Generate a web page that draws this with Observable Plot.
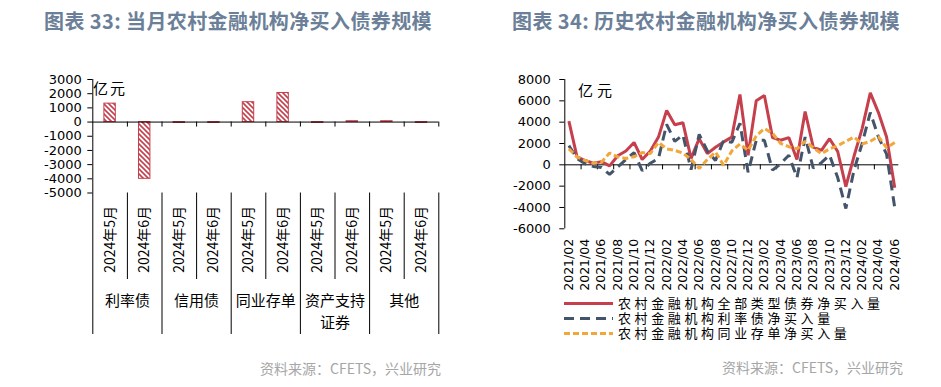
<!DOCTYPE html>
<html>
<head>
<meta charset="utf-8">
<script src="https://cdn.jsdelivr.net/npm/d3@7"></script>
<script src="https://cdn.jsdelivr.net/npm/@observablehq/plot@0.6"></script>
<style>
  html, body { margin: 0; padding: 0; background: #fff; }
  #page { position: relative; width: 941px; height: 387px; overflow: hidden; font-family: "Noto Sans CJK SC", sans-serif; }
  .abs { position: absolute; white-space: nowrap; }
  .title { font-size: 20px; font-weight: bold; color: #6b7f98; line-height: 26px; letter-spacing: 0.4px; }
  .src { font-size: 14px; color: #a6a6a6; line-height: 18px; }
  .unit { font-size: 15px; color: #000; line-height: 18px; letter-spacing: 2px; }
  #legend { font-family: "Liberation Sans", "Noto Sans CJK SC", sans-serif; font-size: 13px; letter-spacing: 3.6px; line-height: 15px; color: #000; }
  #legend .row { display: flex; align-items: center; height: 15px; }
  #legend .row span { display: inline-block; height: 15px; line-height: 15px; overflow: visible; }
  #legend svg { margin-right: 5px; }
</style>
</head>
<body>
<div id="page">
  <div class="abs title" style="left:44px; top:8px;">图表 33: 当月农村金融机构净买入债券规模</div>
  <div class="abs title" style="left:512px; top:8px;">图表 34: 历史农村金融机构净买入债券规模</div>
  <div class="abs unit" style="left:93px; top:79px;">亿元</div>
  <div class="abs unit" style="left:578px; top:81px; letter-spacing:4px;">亿元</div>
  <div id="left" class="abs" style="left:0px; top:60px;"></div>
  <div id="right" class="abs" style="left:500px; top:60px;"></div>
  <div id="legend" class="abs" style="left:564px; top:296px;"></div>
  <div class="abs src" style="left:260px; top:359px;">资料来源：CFETS，兴业研究</div>
  <div class="abs src" style="left:722px; top:358px;">资料来源：CFETS，兴业研究</div>
</div>
<script>
// ---------- Left chart data (图表 33) ----------
const groups = ["利率债", "信用债", "同业存单", "资产支持\n证券", "其他"];
const monthsLeft = ["2024年5月", "2024年6月"];
const may = [1300, -60, 1400, -60, 60];
const june = [-4000, -60, 2050, 60, -60];
const leftTicks = [3000, 2000, 1000, 0, -1000, -2000, -3000, -4000, -5000];

// ---------- Right chart data (图表 34) ----------
const months = ["2021/02","2021/03","2021/04","2021/05","2021/06","2021/07","2021/08","2021/09","2021/10","2021/11","2021/12",
  "2022/01","2022/02","2022/03","2022/04","2022/05","2022/06","2022/07","2022/08","2022/09","2022/10","2022/11","2022/12",
  "2023/01","2023/02","2023/03","2023/04","2023/05","2023/06","2023/07","2023/08","2023/09","2023/10","2023/11","2023/12",
  "2024/01","2024/02","2024/03","2024/04","2024/05","2024/06"];
const seriesNames = ["农村金融机构全部类型债券净买入量", "农村金融机构利率债净买入量", "农村金融机构同业存单净买入量"];
const total = [4100, 750, 400, 150, 300, -100, 850, 1300, 2100, 500, 1300, 2600, 5100, 3750, 3950, 600, 2450, 1050, 1650, 2150, 2600,
  6600, 900, 6000, 6500, 2550, 2300, 2550, 500, 5000, 1650, 1350, 2450, 1250, -2050, 800, 3400, 6750, 4900, 2600, -2150];
const rate = [1800, 600, 100, -150, -250, -900, -200, 500, 1150, -550, 150, 600, 3800, 2200, 2800, -450, 2850, 1300, 400, 2300, 2100,
  3900, -700, 2300, 2300, -500, 100, 900, -1200, 2600, -300, 200, 900, -1200, -4100, -500, 2000, 4900, 2600, 1000, -4000];
const ncd = [1500, 750, 400, 150, 250, 1100, 750, 600, 750, 1150, 1050, 2100, 1500, 1350, 1100, 500, -350, 500, 1200, -50, 1300,
  1950, 1350, 2700, 3400, 2950, 2000, 1700, 1500, 2200, 1600, 1050, 1500, 1800, 2200, 2600, 1950, 2200, 2650, 1600, 2100];
const rightTicks = [8000, 6000, 4000, 2000, 0, -2000, -4000, -6000];

const RED = "#c53f4c", BLUE = "#44546a", ORANGE = "#f2a73b";
const NUMFONT = "DejaVu Sans";
const CJK = "Noto Sans CJK SC";

// ---------- Left chart ----------
const leftData = [];
groups.forEach((g, gi) => {
  [may[gi], june[gi]].forEach((v, mi) => {
    leftData.push({i: gi * 2 + mi, group: g, month: monthsLeft[mi], value: v});
  });
});
const nCat = leftData.length;
const boundaries = d3.range(1, nCat + 1);
const innerB = boundaries.filter(b => b % 2 === 1);
const groupB = boundaries.filter(b => b % 2 === 0);

const left = Plot.plot({
  width: 470, height: 290,
  marginTop: 19, marginBottom: 157.5, marginLeft: 92.3, marginRight: 31.7,
  x: {domain: [0, nCat], axis: null},
  y: {domain: [-5000, 3000], axis: null},
  style: {fontFamily: NUMFONT, fontSize: "13px", color: "#000", background: "transparent", overflow: "visible"},
  marks: [
    Plot.axisY({ticks: leftTicks, tickSize: 5, tickPadding: 6, tickFormat: d => String(d), label: null, fontSize: 13}),
    Plot.rect(leftData, {x1: d => d.i + 0.335, x2: d => d.i + 0.665, y1: 0, y2: "value", fill: "url(#hatch33)", stroke: RED, strokeWidth: 1}),
    Plot.ruleY([0], {stroke: "#000", strokeWidth: 1}),
    Plot.ruleX(boundaries, {x: d => d, y1: 0, y2: 0, insetBottom: -5, stroke: "#000"}),
    Plot.ruleX([0], {y1: 3000, y2: -5000, insetBottom: -141.5, stroke: "#000"}),
    Plot.ruleX(innerB, {x: d => d, y1: -5000, y2: -5000, insetBottom: -86.5, stroke: "#000"}),
    Plot.ruleX(groupB, {x: d => d, y1: -5000, y2: -5000, insetBottom: -141.5, stroke: "#000"}),
    Plot.text(leftData, {x: d => d.i + 0.5, y: -5000, text: "month", rotate: -90, textAnchor: "end", dy: 13,
      fontFamily: CJK, fontSize: 14, fill: "#000"}),
    Plot.text(groups, {x: (d, i) => i * 2 + 1, y: -5000, text: d => d, lineAnchor: "top", dy: 97, lineHeight: 1.5,
      fontFamily: CJK, fontSize: 15, fill: "#000"})
  ]
});
// hatch pattern
const defs = d3.select(left).insert("defs", ":first-child");
const pat = defs.append("pattern").attr("id", "hatch33").attr("patternUnits", "userSpaceOnUse")
  .attr("width", 5).attr("height", 5);
pat.append("rect").attr("width", 5).attr("height", 5).attr("fill", "#fff");
pat.append("path").attr("d", "M0,0L5,5M-1,4L1,6M4,-1L6,1").attr("stroke", RED).attr("stroke-width", 1.6);
document.getElementById("left").appendChild(left);

// ---------- Right chart ----------
const seriesVals = [total, rate, ncd];
const seriesStyle = [
  {stroke: RED, dash: null},
  {stroke: BLUE, dash: "10,6"},
  {stroke: ORANGE, dash: "6,3"}
];
const tickB = d3.range(1.5, months.length - 1, 2);

const lineMarks = seriesVals.map((vals, s) =>
  Plot.lineY(vals, {x: (d, i) => i, y: d => d, stroke: seriesStyle[s].stroke, strokeWidth: 3,
    strokeDasharray: seriesStyle[s].dash, strokeLinejoin: "miter", strokeLinecap: "butt"})
);

const right = Plot.plot({
  width: 441, height: 290,
  marginTop: 19, marginBottom: 121.7, marginLeft: 64.3, marginRight: 42.7,
  x: {domain: [-0.5, months.length - 0.5]},
  y: {domain: [-6000, 8000]},
  style: {fontFamily: NUMFONT, fontSize: "13px", color: "#000", background: "transparent", overflow: "visible"},
  marks: [
    Plot.axisY({ticks: rightTicks, tickSize: 5, tickPadding: 9, tickFormat: d => String(d), label: null, fontSize: 13}),
    Plot.axisX({ticks: d3.range(0, months.length, 2), tickFormat: i => months[i], tickRotate: -90, tickSize: 0, tickPadding: 10,
      label: null, fontSize: 12.5}),
    Plot.ruleX([-0.5], {y1: 8000, y2: -6000, stroke: "#000"}),
    Plot.ruleY([0], {stroke: "#000"}),
    Plot.ruleX(tickB, {x: d => d, y1: 0, y2: 0, insetBottom: -5, stroke: "#000"}),
    ...lineMarks
  ]
});
document.getElementById("right").appendChild(right);

// ---------- Legend ----------
const legend = d3.select("#legend");
seriesNames.forEach((name, s) => {
  const row = legend.append("div").attr("class", "row");
  const sv = row.append("svg").attr("width", 49).attr("height", 15);
  sv.append("line").attr("x1", 0).attr("x2", 49).attr("y1", 7.5).attr("y2", 7.5)
    .attr("stroke", seriesStyle[s].stroke).attr("stroke-width", 3)
    .attr("stroke-dasharray", seriesStyle[s].dash);
  row.append("span").text(name);
});
</script>
</body>
</html>
